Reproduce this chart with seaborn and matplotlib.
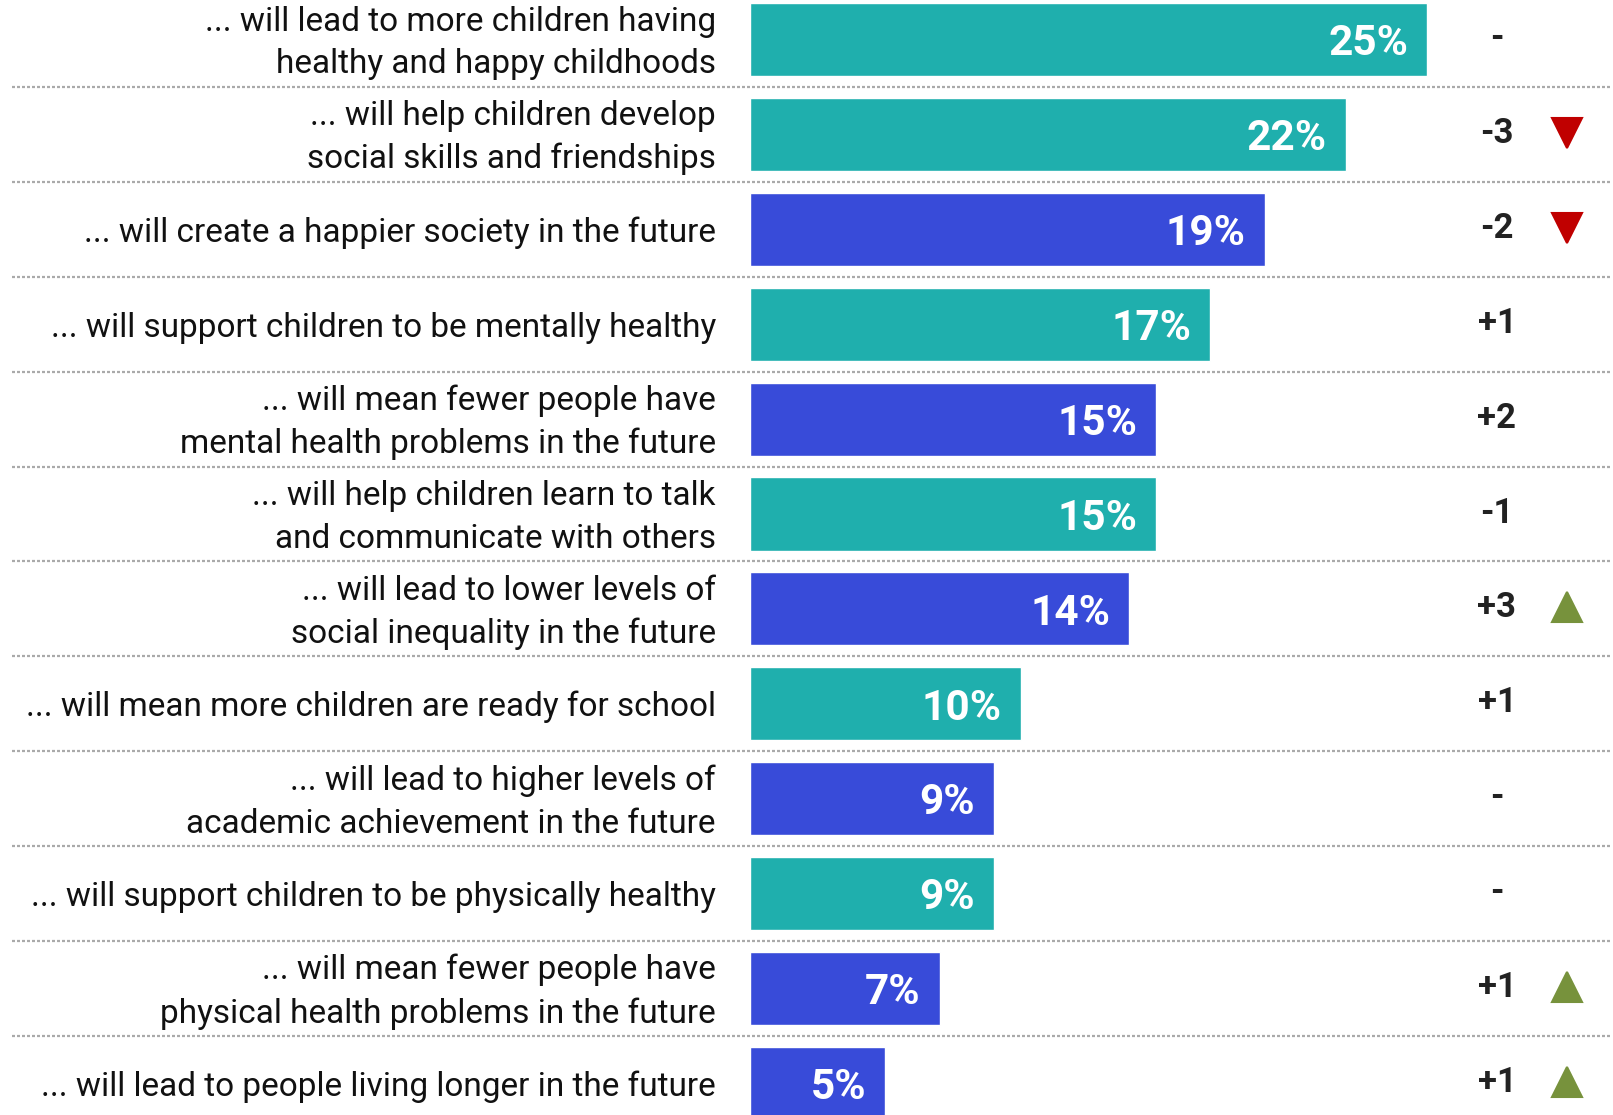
import numpy as np
import pandas as pd
import matplotlib
matplotlib.use("Agg")
import matplotlib.pyplot as plt
import seaborn as sns

# Statements, share of respondents (%) and change in ranking points
statements = [
    "... will lead to more children having\nhealthy and happy childhoods",
    "... will help children develop\nsocial skills and friendships",
    "... will create a happier society in the future",
    "... will support children to be mentally healthy",
    "... will mean fewer people have\nmental health problems in the future",
    "... will help children learn to talk\nand communicate with others",
    "... will lead to lower levels of\nsocial inequality in the future",
    "... will mean more children are ready for school",
    "... will lead to higher levels of\nacademic achievement in the future",
    "... will support children to be physically healthy",
    "... will mean fewer people have\nphysical health problems in the future",
    "... will lead to people living longer in the future",
]
shares = [25, 22, 19, 17, 15, 15, 14, 10, 9, 9, 7, 5]
groups = ["children", "children", "society", "children", "society", "children",
          "society", "children", "society", "children", "society", "society"]
changes = ["-", "-3", "-2", "+1", "+2", "-1", "+3", "+1", "-", "-", "+1", "+1"]
trends = ["", "down", "down", "", "", "", "up", "", "", "", "up", "up"]

palette = {"children": "#1FAFAD", "society": "#384BD9"}
TREND_COLORS = {"up": "#77923C", "down": "#C00000"}

sns.set_theme(style="white")
plt.rcParams["font.family"] = ["Roboto", "DejaVu Sans"]

df = pd.DataFrame({"statement": statements, "share": shares, "group": groups})

fig = plt.figure(figsize=(16.13, 11.15), dpi=100)
ax = fig.add_axes([0, 0, 1, 1])

sns.barplot(data=df, x="share", y="statement", hue="group", palette=palette,
            order=statements, dodge=False, width=0.77, legend=False,
            saturation=1, orient="h", ax=ax)

px = 27.08  # pixels per percentage point
ax.set_xlim(-750 / px, (1613 - 750) / px)
ax.set_ylim(11.333, -0.416)
ax.axis("off")

for i, (label, val, chg, tr) in enumerate(zip(statements, shares, changes, trends)):
    ax.text(-34 / px, i + 0.035, label, ha="right", va="center", fontsize=24,
            color="#111111", linespacing=1.42)
    ax.text(val - 19 / px, i + 0.045, f"{val}%", ha="right", va="center",
            fontsize=30.5, fontweight="bold", color="white")
    ax.text(747 / px, i - 0.01, chg, ha="center", va="center",
            fontsize=25, fontweight="bold", color="#222222")
    if tr:
        ax.plot([817 / px], [i - 0.015], marker="v" if tr == "down" else "^",
                markersize=21, color=TREND_COLORS[tr],
                markeredgecolor=TREND_COLORS[tr], markeredgewidth=1.5,
                linestyle="none")

# dotted separators between rows
for i in range(len(statements) - 1):
    ax.plot([-738 / px, 860 / px], [i + 0.5, i + 0.5], color="#aaaaaa",
            linewidth=1.6, linestyle=(0, (1.35, 0.9)), solid_capstyle="butt",
            dash_capstyle="butt")

fig.savefig("out.png", dpi=100)
